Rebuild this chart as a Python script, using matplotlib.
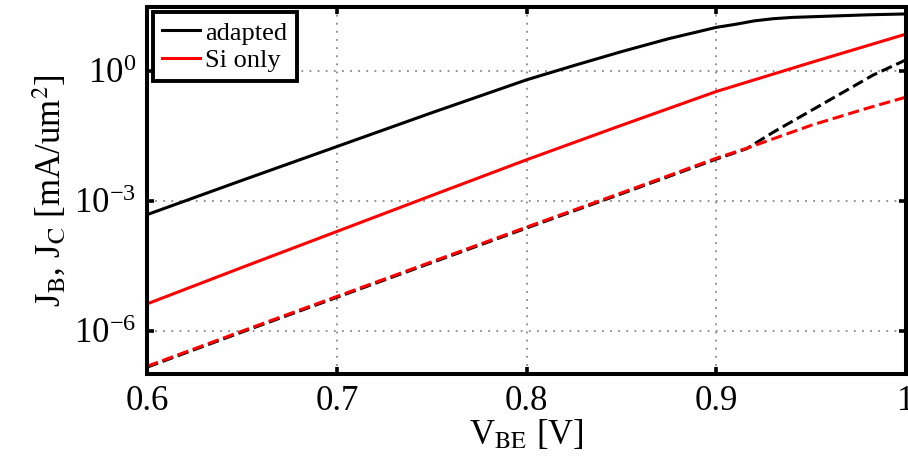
import matplotlib
matplotlib.use("Agg")
import matplotlib.pyplot as plt
import numpy as np

plt.rcParams['font.family'] = ['Liberation Serif', 'DejaVu Serif']
plt.rcParams['mathtext.fontset'] = 'stix'

# V_BE [V]
v_jc_adapted = [0.6, 0.65, 0.7, 0.75, 0.775, 0.8, 0.825, 0.85, 0.875, 0.9, 0.91, 0.92, 0.93, 0.94, 0.96, 0.98, 1.0]
jc_adapted_log = [-3.32, -2.53, -1.75, -0.97, -0.59, -0.21, 0.12, 0.44, 0.74, 1.0, 1.07, 1.15, 1.2, 1.23, 1.26, 1.29, 1.31]

v_jc_si = [0.6, 0.65, 0.7, 0.75, 0.8, 0.85, 0.9, 0.95, 1.0]
jc_si_log = [-5.38, -4.54, -3.71, -2.88, -2.055, -1.26, -0.48, 0.19, 0.845]

v_jb_adapted = [0.6, 0.65, 0.7, 0.75, 0.8, 0.85, 0.9, 0.916, 0.93, 0.9476, 0.9827, 1.0]
jb_adapted_log = [-6.84, -6.03, -5.23, -4.43, -3.63, -2.84, -2.04, -1.80, -1.42, -0.98, -0.10, 0.25]

v_jb_si = [0.6, 0.65, 0.7, 0.75, 0.8, 0.85, 0.9, 0.916, 0.95, 0.98, 1.0]
jb_si_log = [-6.82, -6.01, -5.21, -4.41, -3.61, -2.82, -2.02, -1.79, -1.26, -0.86, -0.61]

legend_labels = ["adapted", "Si only"]
xticks = [0.6, 0.7, 0.8, 0.9, 1.0]
xticklabels = ["0.6", "0.7", "0.8", "0.9", "1"]
yticks = [1e-6, 1e-3, 1e0]

fig = plt.figure(figsize=(9.08, 4.67), dpi=100)
ax = fig.add_axes([147.3/908, 1-374/467, (906-147.3)/908, (374-6.7)/467])

lw = 2.2
ax.semilogy(v_jb_adapted, 10**np.array(jb_adapted_log), '--', color='black', lw=lw)
ax.semilogy(v_jb_si, 10**np.array(jb_si_log), '--', color='red', lw=lw)
l1, = ax.semilogy(v_jc_adapted, 10**np.array(jc_adapted_log), '-', color='black', lw=lw)
l2, = ax.semilogy(v_jc_si, 10**np.array(jc_si_log), '-', color='red', lw=lw)

ax.set_xlim(0.6, 1.0)
ax.set_ylim(1e-7, 30)
ax.set_xticks(xticks)
ax.set_xticklabels(xticklabels)
ax.set_yticks(yticks)
ax.yaxis.set_minor_locator(matplotlib.ticker.NullLocator())
ax.xaxis.set_minor_locator(matplotlib.ticker.NullLocator())

ax.grid(True, which='major', linestyle=(0, (1, 3.5)), color='#888888', lw=1.3)
ax.tick_params(direction='in', top=True, right=True, length=5, width=2.6,
               labelsize=25, pad=8)
for s in ax.spines.values():
    s.set_linewidth(2.9)

ax.set_xlabel(r'V$_{\mathrm{BE}}$ [V]', fontsize=25, labelpad=0)
ax.set_ylabel(r'J$_{\mathrm{B}}$, J$_{\mathrm{C}}$ [mA/um$^2$]', fontsize=25, labelpad=4)

leg = ax.legend([l1, l2], legend_labels, loc='upper left',
                bbox_to_anchor=(0.007, 0.986), borderaxespad=0,
                fontsize=19, fancybox=False, framealpha=1, edgecolor='black',
                handlelength=1.45, handletextpad=0.2, labelspacing=0.15,
                borderpad=0.35)
leg.get_frame().set_linewidth(2.8)

fig.savefig('out.png', dpi=100)
